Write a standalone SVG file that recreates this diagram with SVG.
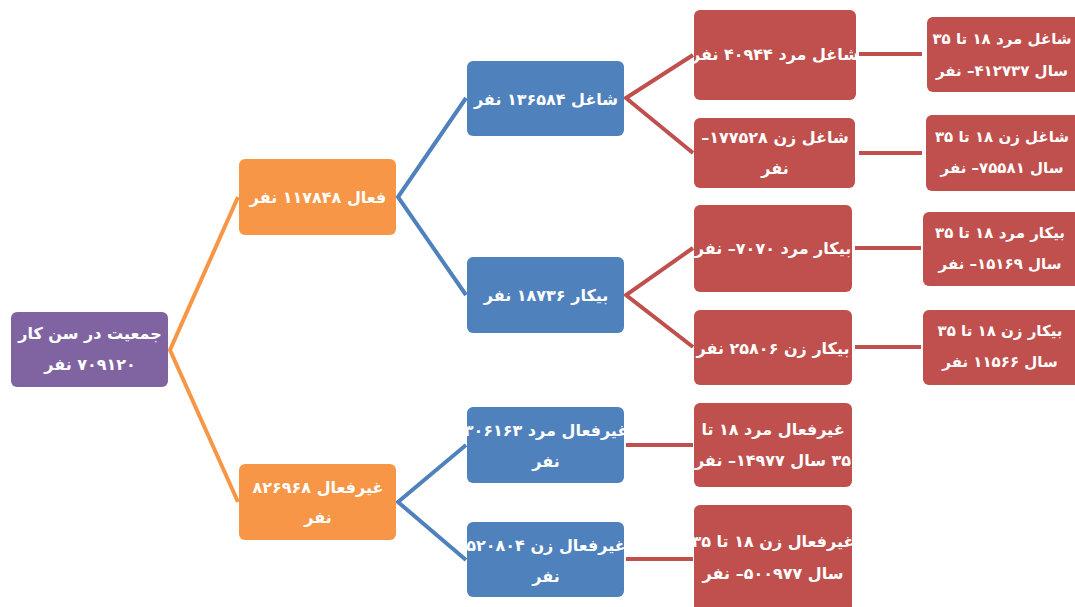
<svg xmlns="http://www.w3.org/2000/svg" width="1075" height="607" viewBox="0 0 1075 607">
<style>
.p{fill:#8064A2}.o{fill:#F79646}.b{fill:#4F81BD}.r{fill:#C0504D}
text{font-family:"DejaVu Sans",sans-serif;font-weight:bold;font-size:16px;fill:#fff;text-anchor:middle;direction:rtl;unicode-bidi:embed;dominant-baseline:central}
.f text{font-size:15px}
.lo{stroke:#F79646;stroke-width:4;fill:none}
.lb{stroke:#4F81BD;stroke-width:4;fill:none}
.lr{stroke:#C0504D;stroke-width:4;fill:none}
</style>
<rect width="1075" height="607" fill="#fff"/>
<g id="connectors">
<polyline class="lo" points="238,197 170,350 238,502"/>
<polyline class="lb" points="466,98 398,197 466,295"/>
<polyline class="lb" points="466,445 398,502 466,560"/>
<polyline class="lr" points="693,55 626,98 693,153"/>
<polyline class="lr" points="693,248 626,295 693,347"/>
<line class="lr" x1="626" y1="445" x2="693" y2="445"/>
<line class="lr" x1="626" y1="559" x2="693" y2="559"/>
<line class="lr" x1="859" y1="54" x2="922" y2="54"/>
<line class="lr" x1="859" y1="153" x2="922" y2="153"/>
<line class="lr" x1="855" y1="248" x2="921" y2="248"/>
<line class="lr" x1="855" y1="347" x2="921" y2="347"/>
</g>
<g id="root"><rect class="p" x="11" y="312" width="157" height="75" rx="6"/><text x="90" y="333">جمعیت در سن کار</text><text x="90" y="364">۷۰۹۱۲۰ نفر</text></g>
<g id="active"><rect class="o" x="239" y="159" width="157" height="76" rx="6"/><text x="318" y="197">فعال ۱۱۷۸۴۸ نفر</text></g>
<g id="inactive"><rect class="o" x="239" y="464" width="157" height="76" rx="6"/><text x="318" y="487">غیرفعال ۸۲۶۹۶۸</text><text x="318" y="517">نفر</text></g>
<g id="employed"><rect class="b" x="467" y="61" width="157" height="75" rx="6"/><text x="546" y="99">شاغل ۱۳۶۵۸۴ نفر</text></g>
<g id="unemployed"><rect class="b" x="467" y="257" width="157" height="76" rx="6"/><text x="546" y="295">بیکار ۱۸۷۳۶ نفر</text></g>
<g id="inactive-male"><rect class="b" x="467" y="407" width="157" height="76" rx="6"/><text x="546" y="430">غیرفعال مرد ۳۰۶۱۶۳</text><text x="546" y="461">نفر</text></g>
<g id="inactive-female"><rect class="b" x="467" y="522" width="157" height="75" rx="6"/><text x="546" y="545">غیرفعال زن ۵۲۰۸۰۴</text><text x="546" y="576">نفر</text></g>
<g id="employed-male"><rect class="r" x="694" y="10" width="162" height="90" rx="6"/><text x="775" y="54">شاغل مرد ۴۰۹۴۴ نفر</text></g>
<g id="employed-female"><rect class="r" x="694" y="118" width="161" height="70" rx="6"/><text x="775" y="137">شاغل زن ۱۷۷۵۲۸–</text><text x="775" y="168">نفر</text></g>
<g id="unemployed-male"><rect class="r" x="694" y="205" width="158" height="87" rx="6"/><text x="773" y="248">بیکار مرد ۷۰۷۰– نفر</text></g>
<g id="unemployed-female"><rect class="r" x="694" y="310" width="158" height="75" rx="6"/><text x="773" y="348">بیکار زن ۲۵۸۰۶ نفر</text></g>
<g id="inactive-male-young"><rect class="r" x="694" y="403" width="158" height="84" rx="6"/><text x="773" y="429">غیرفعال مرد ۱۸ تا</text><text x="773" y="460">۳۵ سال ۱۴۹۷۷– نفر</text></g>
<g id="inactive-female-young"><rect class="r" x="694" y="505" width="158" height="110" rx="6"/><text x="773" y="541">غیرفعال زن ۱۸ تا ۳۵</text><text x="773" y="573">سال ۵۰۰۹۷۷– نفر</text></g>
<g class="f">
<g id="employed-male-young"><rect class="r" x="927" y="17" width="162" height="75" rx="6"/><text x="1002" y="39">شاغل مرد ۱۸ تا ۳۵</text><text x="1002" y="71">سال ۴۱۲۷۳۷– نفر</text></g>
<g id="employed-female-young"><rect class="r" x="926" y="115" width="162" height="76" rx="6"/><text x="1002" y="137">شاغل زن ۱۸ تا ۳۵</text><text x="1002" y="168">سال ۷۵۵۸۱– نفر</text></g>
<g id="unemployed-male-young"><rect class="r" x="923" y="212" width="162" height="74" rx="6"/><text x="1000" y="233">بیکار مرد ۱۸ تا ۳۵</text><text x="1000" y="264">سال ۱۵۱۶۹– نفر</text></g>
<g id="unemployed-female-young"><rect class="r" x="923" y="310" width="162" height="75" rx="6"/><text x="1000" y="331">بیکار زن ۱۸ تا ۳۵</text><text x="1000" y="362">سال ۱۱۵۶۶ نفر</text></g>
</g>
</svg>
